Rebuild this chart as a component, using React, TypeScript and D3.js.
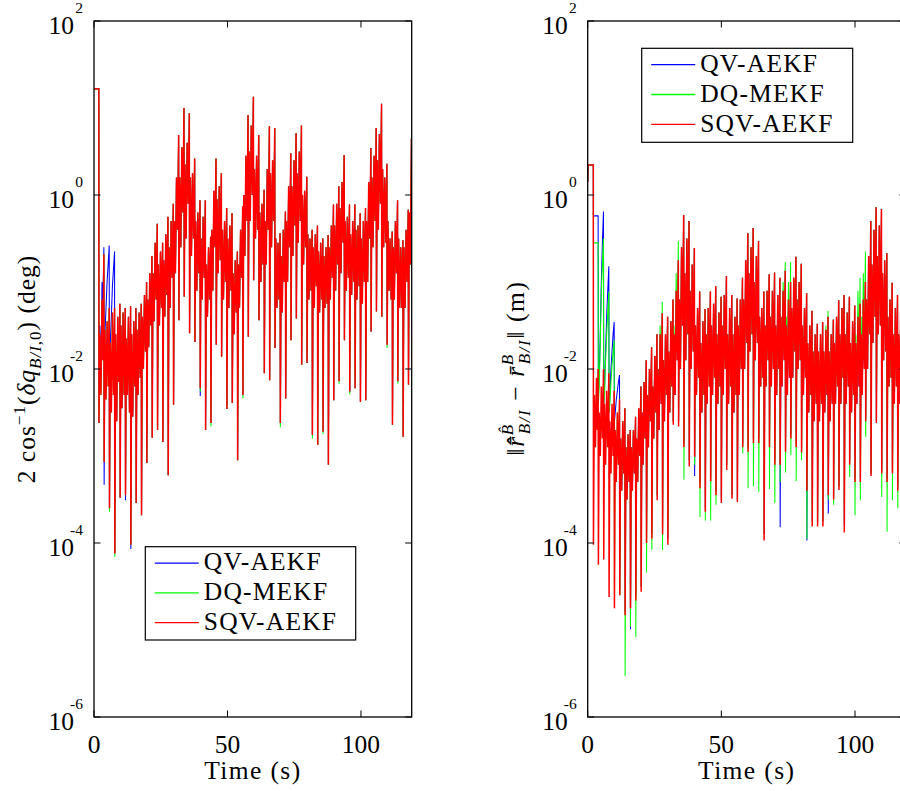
import React from "react";
import * as d3 from "d3";

// ---------------- data (values are log10 of the plotted quantity) ----------------
const timeTicks = [0, 50, 100];
const logTicks = [2, 0, -2, -4, -6];
const seriesNames = ["QV-AEKF", "DQ-MEKF", "SQV-AEKF"];

// ---- Left panel: 2cos^-1(dq) (deg) ----
const leftSpikeT = [3.8, 5.8, 7.8, 9.8, 11.8, 13.8, 15.8, 17.8, 19.8, 21.8, 23.8, 25.8, 27.8, 29.8, 31.8, 33.8, 35.8, 37.8, 39.8, 41.8, 43.8, 45.8, 47.8, 49.8, 51.8, 53.8, 55.8, 57.8, 59.8, 61.8, 63.8, 65.8, 67.8, 69.8, 71.8, 73.8, 75.8, 77.8, 79.8, 81.8, 83.8, 85.8, 87.8, 89.8, 91.8, 93.8, 95.8, 97.8, 99.8, 101.8, 103.8, 105.8, 107.8, 109.8, 111.8, 113.8, 115.8, 117.8];
// per slot: four in-between samples and the crest reached before the next drop
const leftBody = [
  [-1.55, -2.35, -1.45, -2.2, -1.3], [-1.7, -2.5, -1.35, -2.3, -1.3], [-1.6, -2.6, -1.4, -2.15, -1.25],
  [-1.5, -2.45, -1.35, -2.3, -1.3], [-1.65, -2.3, -1.4, -2.5, -1.28], [-1.6, -2.55, -1.45, -2.2, -1.3],
  [-1.55, -2.3, -1.35, -2.1, -1.25], [-1.4, -2.0, -1.15, -1.8, -1.0], [-1.2, -1.75, -0.9, -1.5, -0.7],
  [-0.9, -1.45, -0.55, -1.2, -0.33], [-0.8, -1.5, -0.65, -1.3, -0.55], [-0.75, -1.4, -0.45, -1.15, -0.25],
  [-0.6, -1.3, -0.3, -0.95, -0.1], [-0.3, -0.9, 0.2, -0.4, 0.69], [0.2, -0.6, 0.55, -0.2, 1.0],
  [0.35, -0.5, 0.6, -0.1, 0.94], [0.2, -0.7, 0.25, -0.5, 0.42], [-0.3, -1.1, -0.2, -0.9, -0.06],
  [-0.5, -1.2, -0.25, -0.95, -0.06], [-0.8, -1.4, -0.6, -1.2, -0.48], [-0.4, -1.1, 0.05, -0.6, 0.42],
  [-0.05, -0.9, 0.1, -0.75, 0.25], [-0.4, -1.2, -0.3, -1.0, -0.15], [-0.5, -1.3, -0.35, -1.1, -0.21],
  [-0.9, -1.6, -0.75, -1.35, -0.65], [-0.8, -1.3, -0.4, -0.95, -0.13], [0.0, -0.7, 0.45, -0.3, 0.92],
  [0.5, -0.3, 0.8, 0.0, 1.13], [0.3, -0.5, 0.45, -0.4, 0.69], [-0.2, -1.0, -0.1, -0.8, 0.06],
  [-0.3, -0.8, 0.3, -0.4, 0.79], [0.25, -0.6, 0.4, -0.3, 0.77], [-0.5, -1.3, -0.55, -1.2, -0.44],
  [-0.7, -1.35, -0.4, -1.0, -0.19], [-0.3, -1.0, 0.1, -0.6, 0.48], [0.1, -0.7, 0.4, -0.35, 0.71],
  [0.25, -0.55, 0.5, -0.3, 0.8], [0.0, -0.8, 0.05, -0.6, 0.21], [-0.45, -1.2, -0.5, -1.1, -0.4],
  [-0.6, -1.3, -0.45, -1.05, -0.35], [-0.65, -1.35, -0.55, -1.2, -0.5], [-0.7, -1.3, -0.6, -1.25, -0.46],
  [-0.6, -1.2, -0.35, -0.95, -0.11], [-0.35, -1.1, -0.1, -0.8, 0.1], [-0.15, -0.9, 0.15, -0.55, 0.46],
  [-0.3, -1.1, -0.25, -0.95, -0.11], [-0.45, -1.15, -0.3, -1.0, -0.11], [-0.4, -1.2, -0.35, -1.05, -0.21],
  [-0.5, -1.25, -0.3, -1.0, -0.15], [-0.3, -1.0, 0.15, -0.5, 0.54], [0.2, -0.6, 0.45, -0.3, 0.77],
  [0.4, -0.4, 0.7, -0.1, 1.05], [0.3, -0.6, 0.2, -0.55, 0.36], [-0.3, -1.1, -0.5, -1.2, -0.42],
  [-0.6, -1.2, -0.3, -0.9, -0.06], [-0.5, -1.3, -0.6, -1.3, -0.52], [-0.6, -1.3, -0.4, -1.0, -0.17],
  [-0.2, -0.8, 0.65, 0.2, 0.85],
];
const leftDepthSQV = [-3.07, -3.6, -4.12, -3.48, -3.45, -4.02, -3.54, -3.68, -3.08, -2.79, -2.7, -2.84, -3.22, -2.41, -1.44, -1.17, -1.59, -1.69, -2.22, -2.7, -2.62, -1.72, -1.86, -2.46, -2.39, -3.05, -2.3, -1.63, -0.98, -1.44, -2.05, -2.13, -1.76, -2.62, -2.34, -1.67, -1.42, -1.95, -1.93, -2.76, -2.87, -2.72, -3.1, -2.36, -2.14, -1.67, -2.26, -2.22, -2.38, -2.36, -1.57, -1.34, -1.4, -1.72, -2.64, -2.14, -2.78, -2.18];
const leftDepthDQ = [-3.07, -3.64, -4.16, -3.48, -3.45, -4.02, -3.54, -3.68, -3.08, -2.79, -2.7, -2.84, -3.22, -2.41, -1.44, -1.17, -1.59, -1.69, -2.26, -2.7, -2.66, -1.72, -1.86, -2.46, -2.39, -3.05, -2.34, -1.63, -0.98, -1.44, -2.05, -2.13, -1.76, -2.67, -2.34, -1.67, -1.42, -1.95, -1.93, -2.8, -2.87, -2.75, -3.1, -2.36, -2.17, -1.67, -2.29, -2.22, -2.38, -2.36, -1.57, -1.34, -1.4, -1.76, -2.64, -2.17, -2.78, -2.18];
const leftDepthQV = [-3.33, -3.6, -4.12, -3.48, -3.51, -4.07, -3.54, -3.68, -3.08, -2.79, -2.7, -2.84, -3.22, -2.41, -1.44, -1.17, -1.59, -1.69, -2.31, -2.7, -2.62, -1.72, -1.86, -2.46, -2.39, -3.05, -2.3, -1.63, -0.98, -1.44, -2.05, -2.13, -1.76, -2.62, -2.34, -1.67, -1.42, -1.95, -1.93, -2.76, -2.87, -2.72, -3.1, -2.36, -2.14, -1.67, -2.26, -2.22, -2.38, -2.36, -1.57, -1.34, -1.4, -1.72, -2.64, -2.14, -2.78, -2.18];
const leftHeadSQV = [[0, 1.22], [1.8, 1.22], [1.85, -2.62], [2.2, -1.6], [2.6, -2.3], [3.0, -1.2], [3.3, -1.9], [3.7, -0.68]];
const leftHeadDQ = [[0, 1.22], [1.8, 1.22], [1.85, -2.62], [2.2, -1.6], [2.6, -2.3], [3.0, -1.2], [3.3, -1.9], [3.7, -0.68]];
const leftHeadQV = [[0, 1.22], [1.8, 1.22], [1.85, -2.62], [2.2, -1.5], [2.6, -2.1], [3.0, -1.0], [3.3, -1.3], [3.7, -0.6]];
// slot rows that differ from the shared body: [slot, b1, b2, b3, b4, crest]
const leftOverQV = [[0, -1.6, -1.3, -1.0, -0.8, -0.58], [1, -1.7, -1.4, -1.05, -0.85, -0.65]];
const leftOverDQ: number[][] = [];
const leftOverSQV: number[][] = [];

// ---- Right panel: position error (m) ----
const rightSpikeT = [4, 6, 8, 10, 12, 14, 16, 18, 20, 22, 24, 26, 28, 30, 32, 34, 36, 38, 40, 42, 44, 46, 48, 50, 52, 54, 56, 58, 60, 62, 64, 66, 68, 70, 72, 74, 76, 78, 80, 82, 84, 86, 88, 90, 92, 94, 96, 98, 100, 102, 104, 106, 108, 110, 112, 114, 116, 118];
const rightBody = [
  [-2.5, -3.0, -2.2, -2.8, -2.0], [-2.4, -3.1, -2.25, -2.9, -2.05], [-2.6, -3.2, -2.4, -3.0, -2.25],
  [-2.7, -3.3, -2.5, -3.1, -2.35], [-2.8, -3.4, -2.6, -3.2, -2.45], [-2.9, -3.5, -2.75, -3.3, -2.7],
  [-2.9, -3.4, -2.7, -3.2, -2.55], [-2.8, -3.3, -2.45, -3.0, -2.2], [-2.5, -3.1, -2.15, -2.8, -1.9],
  [-2.3, -2.9, -2.0, -2.6, -1.75], [-2.2, -2.8, -1.85, -2.5, -1.6], [-2.0, -2.7, -1.6, -2.4, -1.36],
  [-1.9, -2.6, -1.6, -2.3, -1.4], [-1.8, -2.5, -1.45, -2.2, -1.2], [-1.6, -2.3, -1.1, -1.9, -0.75],
  [-1.2, -2.0, -0.6, -1.5, -0.23], [-0.9, -1.9, -0.5, -1.6, -0.3], [-1.1, -2.0, -0.8, -1.8, -0.61],
  [-1.5, -2.3, -1.3, -2.1, -1.11], [-1.7, -2.5, -1.45, -2.3, -1.31], [-1.6, -2.4, -1.3, -2.2, -1.11],
  [-1.5, -2.3, -1.25, -2.1, -1.05], [-1.6, -2.4, -1.35, -2.2, -1.17], [-1.5, -2.3, -1.15, -2.0, -0.93],
  [-1.6, -2.4, -1.3, -2.2, -1.15], [-1.6, -2.5, -1.4, -2.3, -1.19], [-1.5, -2.3, -1.2, -2.0, -0.95],
  [-1.2, -2.0, -0.75, -1.7, -0.44], [-0.9, -1.8, -0.6, -1.6, -0.38], [-1.0, -1.9, -0.7, -1.7, -0.53],
  [-1.4, -2.2, -1.3, -2.1, -1.11], [-1.5, -2.2, -1.1, -1.9, -0.91], [-1.4, -2.2, -1.1, -2.0, -0.89],
  [-1.5, -2.3, -1.15, -2.0, -0.95], [-1.4, -2.2, -1.1, -1.9, -0.87], [-1.5, -2.3, -1.2, -2.1, -1.0],
  [-1.3, -2.1, -0.95, -1.8, -0.71], [-1.2, -2.0, -1.0, -1.9, -0.79], [-1.5, -2.3, -1.3, -2.1, -1.13],
  [-1.7, -2.5, -1.5, -2.3, -1.33], [-1.8, -2.6, -1.6, -2.4, -1.48], [-1.8, -2.6, -1.6, -2.4, -1.46],
  [-1.8, -2.5, -1.55, -2.3, -1.4], [-1.8, -2.6, -1.6, -2.4, -1.43], [-1.7, -2.4, -1.4, -2.2, -1.21],
  [-1.6, -2.4, -1.3, -2.1, -1.15], [-1.6, -2.4, -1.35, -2.2, -1.17], [-1.7, -2.5, -1.45, -2.3, -1.27],
  [-1.7, -2.4, -1.4, -2.2, -1.25], [-1.6, -2.3, -1.2, -2.0, -1.0], [-1.2, -2.0, -0.7, -1.6, -0.3],
  [-0.8, -1.7, -0.4, -1.4, -0.14], [-0.7, -1.6, -0.35, -1.5, -0.16], [-0.9, -1.9, -0.75, -1.8, -0.67],
  [-1.4, -2.2, -1.2, -2.1, -1.01], [-1.6, -2.4, -1.3, -2.2, -1.15], [-1.6, -2.4, -1.3, -2.2, -1.15],
  [-1.5, -2.3, -1.3, -2.1, -1.1],
];
const rightDepthSQV = [-4.25, -4.19, -4.62, -4.75, -4.6, -4.83, -4.75, -4.66, -4.56, -4.0, -3.95, -3.51, -3.9, -4.02, -2.64, -2.66, -2.9, -3.12, -3.01, -3.37, -3.64, -3.29, -3.45, -3.54, -3.16, -3.49, -3.53, -2.9, -2.95, -2.85, -2.85, -3.97, -2.9, -3.1, -3.1, -2.95, -2.8, -2.9, -2.96, -3.4, -3.81, -3.81, -3.81, -3.45, -3.5, -3.39, -3.88, -3.1, -3.3, -3.3, -2.6, -3.23, -2.62, -3.2, -3.3, -3.2, -3.4, -3.3];
const rightDepthDQ = [-2.4, -2.4, -2.5, -4.6, -4.6, -5.53, -4.96, -5.08, -4.5, -4.34, -4.08, -3.45, -4.08, -3.9, -2.6, -2.6, -3.27, -3.05, -3.1, -3.7, -3.74, -3.74, -3.56, -3.5, -3.1, -3.45, -3.5, -2.97, -3.37, -3.35, -3.41, -3.9, -3.38, -3.54, -3.3, -3.19, -2.99, -3.29, -3.05, -3.95, -3.75, -3.75, -3.75, -3.5, -3.56, -3.35, -3.8, -3.24, -3.68, -3.51, -2.78, -3.2, -2.6, -3.47, -3.87, -3.51, -3.6, -3.3];
const rightDepthQV = [-2.3, -2.4, -2.5, -2.6, -4.55, -4.8, -4.99, -4.6, -4.5, -3.95, -3.9, -3.45, -3.85, -3.95, -2.6, -2.6, -2.85, -3.05, -3.23, -3.3, -3.6, -3.25, -3.4, -3.5, -3.1, -3.45, -3.5, -2.85, -2.9, -2.8, -2.8, -3.9, -2.85, -3.05, -3.82, -2.9, -2.75, -2.85, -2.9, -3.97, -3.75, -3.75, -3.75, -3.66, -3.45, -3.35, -3.8, -3.05, -3.25, -3.25, -2.55, -3.2, -2.6, -3.15, -3.25, -3.15, -3.35, -3.25];
const rightHeadSQV = [[0, 0.15], [0.12, 0.345], [2.1, 0.345], [2.15, -4.02], [2.5, -2.3], [2.9, -2.9], [3.3, -2.1], [3.6, -2.7], [3.9, -2.0]];
const rightHeadDQ = [[0, 0.15], [0.12, 0.345], [2.1, 0.345], [2.14, -0.55], [3.9, -0.55]];
const rightHeadQV = [[0, 0.15], [0.12, 0.345], [2.1, 0.345], [2.14, -0.24], [3.9, -0.24]];
const rightOverQV = [
  [0, -2.1, -1.6, -1.0, -0.55, -0.19], [1, -2.2, -1.8, -1.4, -1.1, -0.82],
  [2, -2.3, -2.0, -1.8, -1.6, -1.46], [3, -2.5, -2.35, -2.25, -2.15, -2.07],
];
const rightOverDQ = [
  [0, -2.2, -1.7, -1.1, -0.8, -0.5], [1, -2.3, -1.9, -1.6, -1.35, -1.11], [2, -2.4, -2.15, -1.95, -1.8, -1.67],
  [11, -2.0, -2.6, -1.5, -2.3, -1.23], [14, -1.5, -2.2, -0.9, -1.7, -0.53], [34, -1.4, -2.1, -1.0, -1.8, -0.77],
  [35, -1.4, -2.2, -1.0, -1.9, -0.77], [42, -1.8, -2.4, -1.5, -2.2, -1.33], [48, -1.6, -2.3, -1.1, -1.9, -0.95],
  [49, -1.4, -2.2, -0.9, -1.7, -0.65],
];
const rightOverSQV: number[][] = [];

// ---------------- drawing ----------------
const W = 900;
const H = 791;
const TOP = 21;
const BOTTOM = 717;
const T_MAX = 119;
const SLOT_OFFSETS = [0.3, 0.7, 1.1, 1.5, 1.9];
const COLORS = ["#0000ff", "#00ff00", "#ff0000"];
const WIDTHS = [1.05, 1.05, 1.5];
const FONT = "Liberation Serif, serif";

function buildSeries(head: number[][], spikeT: number[], body: number[][], depth: number[], over: number[][]) {
  const ov = new Map<number, number[]>(over.map((r) => [r[0], r.slice(1)]));
  const pts: number[][] = head.map((p) => [p[0], p[1]]);
  spikeT.forEach((t, k) => {
    const row = ov.get(k) ?? body[k];
    pts.push([t, depth[k]]);
    SLOT_OFFSETS.forEach((o, i) => pts.push([t + o, row[i]]));
  });
  return pts;
}

const leftSeries = [
  buildSeries(leftHeadQV, leftSpikeT, leftBody, leftDepthQV, leftOverQV),
  buildSeries(leftHeadDQ, leftSpikeT, leftBody, leftDepthDQ, leftOverDQ),
  buildSeries(leftHeadSQV, leftSpikeT, leftBody, leftDepthSQV, leftOverSQV),
];
const rightSeries = [
  buildSeries(rightHeadQV, rightSpikeT, rightBody, rightDepthQV, rightOverQV),
  buildSeries(rightHeadDQ, rightSpikeT, rightBody, rightDepthDQ, rightOverDQ),
  buildSeries(rightHeadSQV, rightSpikeT, rightBody, rightDepthSQV, rightOverSQV),
];

type PanelProps = {
  id: string;
  x0: number;
  x1: number;
  series: number[][][];
  legend: { x: number; y: number; w: number; h: number };
  ylabel: React.ReactNode;
};

function Panel({ id, x0, x1, series, legend, ylabel }: PanelProps) {
  const x = d3.scaleLinear().domain([0, T_MAX]).range([x0, x1]);
  const y = d3.scaleLog().domain([1e-6, 1e2]).range([BOTTOM, TOP]);
  const line = d3
    .line<number[]>()
    .x((d) => x(d[0]))
    .y((d) => y(Math.pow(10, d[1])));
  const tick = 6.5;
  return (
    <g>
      <defs>
        <clipPath id={id}>
          <rect x={x0} y={TOP} width={x1 - x0} height={BOTTOM - TOP} />
        </clipPath>
      </defs>
      <g clipPath={`url(#${id})`}>
        {series.map((s, i) => (
          <path key={i} d={line(s) ?? ""} fill="none" stroke={COLORS[i]} strokeWidth={WIDTHS[i]} strokeLinejoin="miter" strokeMiterlimit={2} />
        ))}
      </g>
      <rect x={x0} y={TOP} width={x1 - x0} height={BOTTOM - TOP} fill="none" stroke="#000" strokeWidth={1.3} />
      {logTicks.map((e) => {
        const yy = y(Math.pow(10, e));
        return (
          <g key={e}>
            <line x1={x0} x2={x0 + tick} y1={yy} y2={yy} stroke="#000" strokeWidth={1} />
            <line x1={x1 - tick} x2={x1} y1={yy} y2={yy} stroke="#000" strokeWidth={1} />
            <text x={x0 - 20} y={yy + 12.5} textAnchor="end" fontSize={25.5} fontFamily={FONT}>
              10
            </text>
            <text x={x0 - 11} y={yy - 8} textAnchor="end" fontSize={15.5} fontFamily={FONT}>
              {e < 0 ? `-${-e}` : `${e}`}
            </text>
          </g>
        );
      })}
      {timeTicks.map((t) => (
        <g key={t}>
          <line x1={x(t)} x2={x(t)} y1={BOTTOM} y2={BOTTOM - tick} stroke="#000" strokeWidth={1} />
          <line x1={x(t)} x2={x(t)} y1={TOP} y2={TOP + tick} stroke="#000" strokeWidth={1} />
          <text x={x(t)} y={752.7} textAnchor="middle" fontSize={25.5} fontFamily={FONT}>
            {t}
          </text>
        </g>
      ))}
      <text x={(x0 + x1) / 2} y={779} textAnchor="middle" fontSize={25.5} fontFamily={FONT} letterSpacing={1.4}>
        Time (s)
      </text>
      <g>
        <rect x={legend.x} y={legend.y} width={legend.w} height={legend.h} fill="#fff" stroke="#000" strokeWidth={1.2} />
        {seriesNames.map((n, i) => {
          const ly = legend.y + 16.4 + i * 29.8;
          return (
            <g key={n}>
              <line x1={legend.x + 9.5} x2={legend.x + 53.5} y1={ly} y2={ly} stroke={COLORS[i]} strokeWidth={1.3} />
              <text x={legend.x + 58.5} y={ly + 7.2} fontSize={25.5} fontFamily={FONT} letterSpacing={1.2}>
                {n}
              </text>
            </g>
          );
        })}
      </g>
      {ylabel}
    </g>
  );
}

export default function App() {
  const leftLabel = (
    <text transform="translate(35,369) rotate(-90)" textAnchor="middle" fontSize={25.5} fontFamily={FONT} letterSpacing={1}>
      <tspan>2 cos</tspan>
      <tspan fontSize={17} dy={-10}>−1</tspan>
      <tspan dy={10}>(</tspan>
      <tspan fontStyle="italic">δq</tspan>
      <tspan fontSize={17} dy={6} fontStyle="italic">B/I</tspan>
      <tspan fontSize={17}>,0</tspan>
      <tspan dy={-6}>)</tspan>
      <tspan> (deg)</tspan>
    </text>
  );
  const rightLabel = (
    <text transform="translate(524,368) rotate(-90)" textAnchor="middle" fontSize={25.5} fontFamily={FONT} letterSpacing={1.6}>
      <tspan>‖</tspan>
      <tspan fontStyle="italic">{"r\u0304\u0302"}</tspan>
      <tspan fontSize={17} dy={-11} fontStyle="italic">{"B\u0302"}</tspan>
      <tspan fontSize={17} dx={-11} dy={17} fontStyle="italic">B/I</tspan>
      <tspan dy={-6}> − </tspan>
      <tspan fontStyle="italic">{"r\u0304"}</tspan>
      <tspan fontSize={17} dy={-11} fontStyle="italic">B</tspan>
      <tspan fontSize={17} dx={-11} dy={17} fontStyle="italic">B/I</tspan>
      <tspan dy={-6}>‖ (m)</tspan>
    </text>
  );
  return (
    <svg width={W} height={H} viewBox={`0 0 ${W} ${H}`} style={{ position: "absolute", left: 0, top: 0, background: "#fff" }}>
      <rect x={0} y={0} width={W} height={H} fill="#fff" />
      <Panel id="clipL" x0={94} x1={411.7} series={leftSeries} legend={{ x: 145.3, y: 546.7, w: 210.4, h: 93.3 }} ylabel={leftLabel} />
      <Panel id="clipR" x0={587.7} x1={905.8} series={rightSeries} legend={{ x: 641.7, y: 48.3, w: 211, h: 94 }} ylabel={rightLabel} />
    </svg>
  );
}
